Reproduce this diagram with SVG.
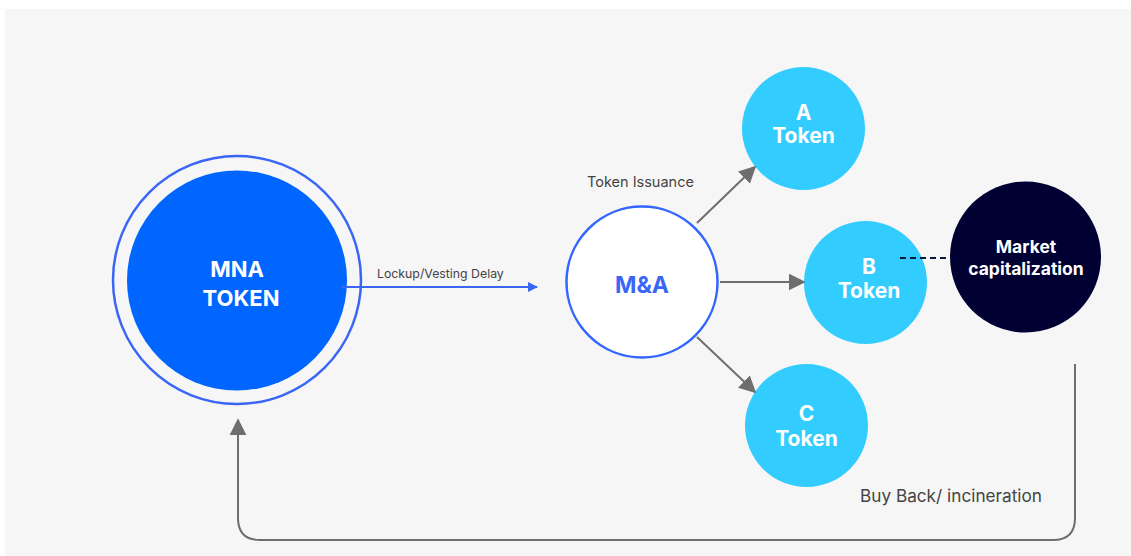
<svg xmlns="http://www.w3.org/2000/svg" width="1131" height="556" viewBox="0 0 1131 556">
  <defs>
    <style>
      .bold { font-family: Inter, "Liberation Sans", sans-serif; font-weight: 700; text-anchor: middle; }
      .label { font-family: Inter, "Liberation Sans", sans-serif; fill: #444444; }
      .token { fill: #33ccff; }
      .gray { stroke: #6e6e6e; stroke-width: 2; fill: none; }
    </style>
    <marker id="headBlue" viewBox="0 0 10 10" refX="9" refY="5" markerWidth="10" markerHeight="10" markerUnits="userSpaceOnUse" orient="auto">
      <path d="M0,0 L10,5 L0,10 Z" fill="#3a66f5"/>
    </marker>
    <marker id="headGray" viewBox="0 0 10 10" refX="9" refY="5" markerWidth="17" markerHeight="17" markerUnits="userSpaceOnUse" orient="auto">
      <path d="M0,0 L10,5 L0,10 Z" fill="#6e6e6e"/>
    </marker>
  </defs>

  <!-- page background -->
  <rect x="0" y="0" width="1131" height="556" fill="#ffffff"/>
  <rect x="5" y="9" width="1126" height="547" fill="#f6f6f6"/>

  <!-- MNA token -->
  <g id="mna-token">
    <circle cx="237" cy="280" r="124" fill="none" stroke="#3a66f5" stroke-width="2.5"/>
    <circle cx="237" cy="280.5" r="110" fill="#0066ff"/>
    <text x="237" y="277" class="bold" font-size="22" fill="#ffffff">MNA</text>
    <text x="241" y="306" class="bold" font-size="22" fill="#ffffff">TOKEN</text>
  </g>

  <!-- M&A -->
  <g id="m-and-a">
    <circle cx="642" cy="282" r="75.5" fill="#ffffff" stroke="#3366ff" stroke-width="2.5"/>
    <text x="642" y="293" class="bold" font-size="23" fill="#3a66f5">M&amp;A</text>
  </g>

  <!-- A token -->
  <g id="a-token">
    <circle cx="803.5" cy="128.5" r="61.5" class="token"/>
    <text x="803.5" y="120" class="bold" font-size="21" fill="#ffffff">A</text>
    <text x="803.5" y="143" class="bold" font-size="21" fill="#ffffff">Token</text>
  </g>

  <!-- B token -->
  <g id="b-token">
    <circle cx="865.5" cy="282.5" r="61.5" class="token"/>
    <text x="869" y="274" class="bold" font-size="21" fill="#ffffff">B</text>
    <text x="869" y="298" class="bold" font-size="21" fill="#ffffff">Token</text>
  </g>

  <!-- C token -->
  <g id="c-token">
    <circle cx="806.5" cy="425.5" r="61.5" class="token"/>
    <text x="806.5" y="421" class="bold" font-size="21" fill="#ffffff">C</text>
    <text x="806.5" y="446" class="bold" font-size="21" fill="#ffffff">Token</text>
  </g>

  <!-- market capitalization -->
  <g id="market-cap">
    <circle cx="1025.5" cy="257" r="75.5" fill="#000033"/>
    <text x="1026" y="253" class="bold" font-size="17.5" fill="#ffffff">Market</text>
    <text x="1026" y="275" class="bold" font-size="17.5" fill="#ffffff">capitalization</text>
  </g>

  <!-- connectors, drawn over the nodes -->
  <g id="connectors">
    <line x1="341" y1="287" x2="537" y2="287" stroke="#3a66f5" stroke-width="2" marker-end="url(#headBlue)"/>
    <line x1="697" y1="223" x2="755" y2="167" class="gray" marker-end="url(#headGray)"/>
    <line x1="720" y1="282" x2="804" y2="282" class="gray" marker-end="url(#headGray)"/>
    <line x1="697" y1="337" x2="755" y2="392" class="gray" marker-end="url(#headGray)"/>
    <line x1="900" y1="258" x2="950" y2="258" stroke="#0a1a3a" stroke-width="2" stroke-dasharray="6 4"/>
    <path d="M1075,364 V518 Q1075,540 1053,540 H260 Q238,540 238,518 V420" class="gray" marker-end="url(#headGray)"/>
    <text x="377" y="278" class="label" font-size="12.3">Lockup/Vesting Delay</text>
    <text x="587" y="187" class="label" font-size="14.5">Token Issuance</text>
    <text x="860" y="502" class="label" font-size="17.2">Buy Back/ incineration</text>
  </g>
</svg>
